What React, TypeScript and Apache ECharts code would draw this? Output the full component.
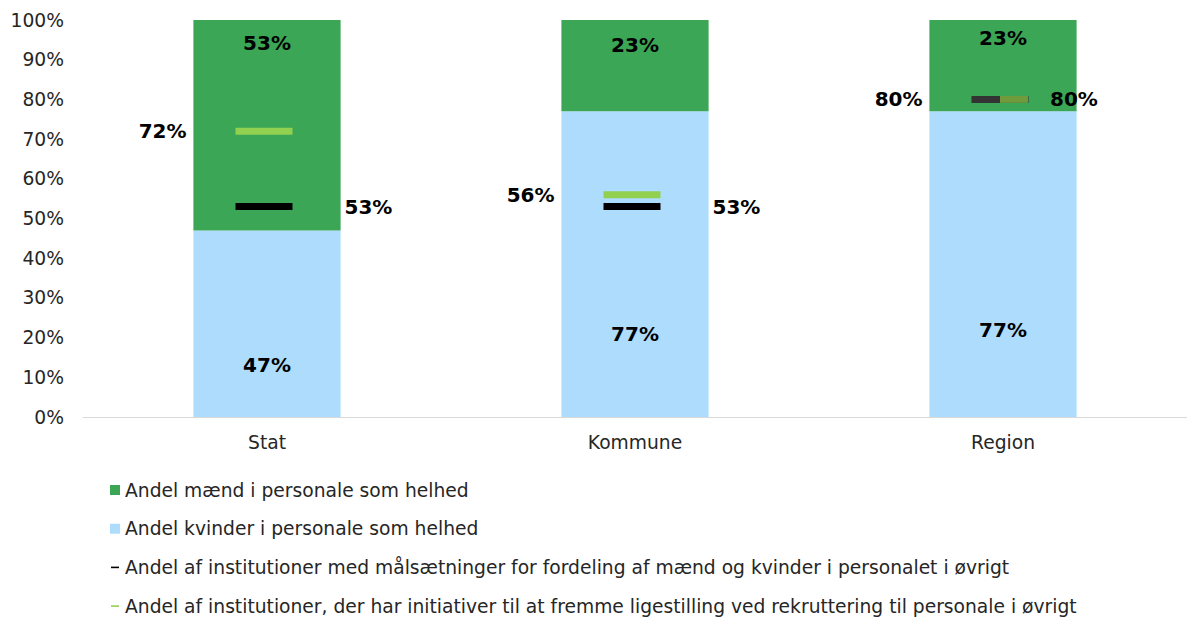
import React, { useEffect, useRef } from "react";
import * as echarts from "echarts";

const categories = ["Stat", "Kommune", "Region"];
const menShare = [53, 23, 23];
const womenShare = [47, 77, 77];
const goalsShare = [53, 53, 80];
const recruitShare = [72, 56, 80];
const yTicks = [0, 10, 20, 30, 40, 50, 60, 70, 80, 90, 100];

const seriesNames = [
  "Andel mænd i personale som helhed",
  "Andel kvinder i personale som helhed",
  "Andel af institutioner med målsætninger for fordeling af mænd og kvinder i personalet i øvrigt",
  "Andel af institutioner, der har initiativer til at fremme ligestilling ved rekruttering til personale i øvrigt",
];

const FONT = "'DejaVu Sans', Verdana, sans-serif";
const dashIcon = "path://M0,0M10,10M1,4.2h8v1.6h-8z";

export default function App() {
  const ref = useRef<HTMLDivElement>(null);
  useEffect(() => {
    if (!ref.current) return;
    const chart = echarts.init(ref.current, undefined, { renderer: "svg" });
    const barLabel = {
      show: true,
      formatter: "{c}%",
      color: "#000",
      opacity: 1,
      textBorderWidth: 0,
      fontWeight: "bold" as const,
      fontSize: 20,
      fontFamily: FONT,
    };
    const womenDist = [42, 73, 77];
    const menDist = [13, 15, 8];
    chart.setOption({
      animation: false,
      textStyle: { fontFamily: FONT },
      grid: { left: 83, top: 20, width: 1119, height: 397, containLabel: false },
      legend: {
        orient: "vertical",
        left: 105,
        top: 475,
        height: 220,
        itemWidth: 10,
        itemHeight: 10,
        itemGap: 18.7,
        textStyle: { fontSize: 18.7, color: "#262626", fontFamily: FONT, lineHeight: 20 },
        data: [
          { name: seriesNames[0], icon: "rect" },
          { name: seriesNames[1], icon: "rect" },
          { name: seriesNames[2], icon: dashIcon },
          { name: seriesNames[3], icon: dashIcon },
        ],
      },
      xAxis: {
        type: "category",
        data: categories,
        axisLine: { show: true, lineStyle: { color: "#d9d9d9", width: 1 } },
        axisTick: { show: false },
        axisLabel: { color: "#262626", fontSize: 18.7, margin: 16, fontFamily: FONT },
      },
      yAxis: {
        type: "value",
        min: yTicks[0],
        max: yTicks[yTicks.length - 1],
        interval: 10,
        axisLine: { show: false },
        axisTick: { show: false },
        splitLine: { show: false },
        axisLabel: {
          color: "#262626",
          fontSize: 18.7,
          margin: 19,
          fontFamily: FONT,
          formatter: (v: number) => `${v}%`,
        },
      },
      series: [
        {
          name: seriesNames[1],
          type: "bar",
          stack: "total",
          barWidth: "40%",
          itemStyle: { color: "#ADDCFD" },
          data: womenShare.map((v, i) => ({
            value: v,
            label: { ...barLabel, position: "insideBottom", distance: womenDist[i] },
          })),
        },
        {
          name: seriesNames[0],
          type: "bar",
          stack: "total",
          barWidth: "40%",
          itemStyle: { color: "#3BA655" },
          data: menShare.map((v, i) => ({
            value: v,
            label: { ...barLabel, position: "insideTop", distance: menDist[i] },
          })),
        },
        {
          name: seriesNames[2],
          type: "scatter",
          symbol: "rect",
          symbolSize: [57, 7],
          symbolOffset: [-3, 0],
          itemStyle: { color: "#000", opacity: 1 },
          z: 5,
          label: { ...barLabel, position: "right", distance: 52 },
          data: goalsShare.map((v, i) =>
            i === 2
              ? {
                  value: v,
                  itemStyle: { color: "#333333" },
                  label: { ...barLabel, position: "left", distance: 49 },
                }
              : { value: v }
          ),
        },
        {
          name: seriesNames[3],
          type: "scatter",
          symbol: "rect",
          symbolSize: [57, 7],
          symbolOffset: [-3, 0],
          itemStyle: { color: "#92D050", opacity: 1 },
          z: 6,
          label: { ...barLabel, position: "left", distance: 49 },
          data: recruitShare.map((v, i) =>
            i === 2
              ? {
                  value: v,
                  symbolSize: [28, 7],
                  symbolOffset: [11, 0],
                  itemStyle: { color: "#6F9B3C" },
                  label: { ...barLabel, position: "right", distance: 22 },
                }
              : { value: v }
          ),
        },
      ],
    });
    return () => chart.dispose();
  }, []);
  return (
    <div
      ref={ref}
      style={{ position: "fixed", left: 0, top: 0, width: 1187, height: 617, background: "#fff" }}
    />
  );
}
